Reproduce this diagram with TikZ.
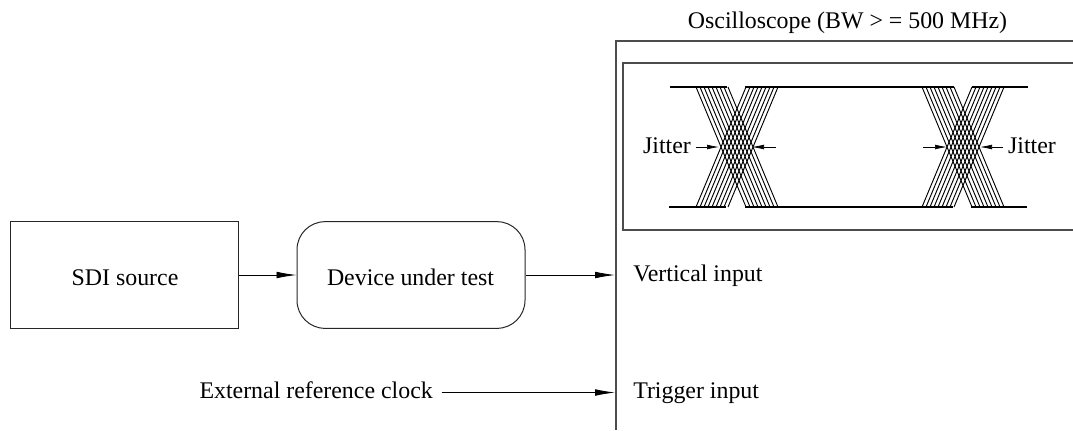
\documentclass[tikz,border=0pt]{standalone}
\usepackage{fontspec}
\setmainfont{Liberation Serif}
\usetikzlibrary{arrows.meta}

\tikzset{
	block/.style={rectangle,draw=black!85,line width=0.75pt,minimum width=171pt,minimum height=80pt,inner sep=0pt},
	txt/.style={inner sep=0pt,font=\fontsize{17.9}{21}\selectfont},
	conn/.style={line width=0.6pt,-{Latex[length=15pt,width=5pt]}},
	smallconn/.style={line width=0.5pt,-{Latex[length=9pt,width=3.6pt]}},
	frameline/.style={line width=0.9pt,draw=black!70},
	trace/.style={line width=0.7pt},
	railline/.style={line width=1.6pt}
}

\begin{document}
\begin{tikzpicture}[x=0.75pt,y=-0.75pt]
\useasboundingbox (0,0) rectangle (1073,430);

\node [block] (src) at (124,275) {};
\node [txt,anchor=base] at (125,285) {SDI source};
\node [block,rounded corners=21pt] (dut) at (411,275) {};
\node [txt,anchor=base] at (410.5,285) {Device under test};
\node [txt,anchor=base east] (ext) at (433,398) {External reference clock};
\node [txt,anchor=base] (scope) at (847.5,28) {Oscilloscope (BW > = 500 MHz)};
\node [txt,anchor=base west] (vin) at (633,281) {Vertical input};
\node [txt,anchor=base west] (tin) at (633,398) {Trigger input};
\node [txt,anchor=base] (jl) at (667,153) {Jitter};
\node [txt,anchor=base] (jr) at (1032,153) {Jitter};

\coordinate (vtip) at (615,275);
\coordinate (ttip) at (615,392.5);
\coordinate (xtail) at (441.5,392.5);

% scope frame and screen
\draw [frameline] (1073,41) -- (616,41) -- (616,430);
\draw [frameline] (1073,63) -- (623,63) -- (623,230) -- (1073,230);

% eye pattern
\foreach \x in {0,226}{
	\foreach \i in {0,...,8}{
		\draw [trace] ({696+\x+4*\i},87) -- ({746+\x+4*\i},207);
		\draw [trace] ({746+\x+4*\i},87) -- ({696+\x+4*\i},207);
	}
}
\draw [railline] (670,87) -- (727,87) (745,87) -- (954,87) (972,87) -- (1028,87);
\draw [railline] (669,207) -- (726,207) (745,207) -- (953,207) (971,207) -- (1027,207);

% jitter marks
\coordinate (jlt) at (696,147);
\coordinate (jrt) at (1003,147);
\coordinate (al) at (719,147);
\coordinate (ar) at (752,147);
\coordinate (bl) at (947,147);
\coordinate (br) at (980,147);
\coordinate (ae) at (776,147);
\coordinate (be) at (923,147);
\draw [smallconn] (jlt) -- (al);
\draw [smallconn] (ae) -- (ar);
\draw [smallconn] (be) -- (bl);
\draw [smallconn] (jrt) -- (br);

\draw [conn] (src) -- (dut);
\draw [conn] (dut) -- (vtip);
\draw [conn] (xtail) -- (ttip);
\end{tikzpicture}
\end{document}
